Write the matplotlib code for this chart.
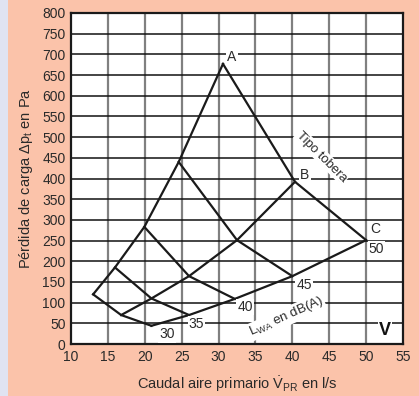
import matplotlib
matplotlib.use("Agg")
import matplotlib.pyplot as plt
from matplotlib.patches import Rectangle

plt.rcParams['font.family'] = ['Liberation Sans', 'DejaVu Sans']
plt.rcParams['mathtext.fontset'] = 'custom'
plt.rcParams['mathtext.rm'] = 'Liberation Sans'
plt.rcParams['mathtext.it'] = 'Liberation Sans'

# nozzle type curves (Tipo tobera): flow l/s, pressure Pa
curve_a_x = [13.0, 15.96, 19.94, 24.6, 30.6]
curve_a_y = [120, 185, 283, 440, 677]
curve_b_x = [16.8, 20.9, 26.0, 32.5, 40.36]
curve_b_y = [70, 110, 164, 251, 392]
curve_c_x = [20.9, 26.0, 32.2, 40.0, 50.0]
curve_c_y = [44, 70, 109, 164, 251]

# sound level lines L_WA in dB(A)
levels = ['30', '35', '40', '45', '50']
label_pos = [(23.05, 23), (27.0, 48), (33.6, 90), (41.6, 143), (51.4, 229)]

salmon = '#fbc3aa'
lav = '#e0e3f2'
tc = '#2a2a2a'

fig = plt.figure(figsize=(4.19, 3.96), dpi=100)
fig.patch.set_facecolor(salmon)
fig.patches.append(Rectangle((0, 0), 8 / 419, 1, transform=fig.transFigure,
                             facecolor=lav, edgecolor='none', zorder=0))

ax = fig.add_axes([71 / 419, 52 / 396, 332 / 419, 331 / 396])
ax.set_facecolor('white')
ax.set_xlim(10, 55)
ax.set_ylim(0, 800)
ax.set_xticks(range(10, 56, 5))
ax.set_yticks(range(0, 801, 50))
ax.tick_params(length=0, labelsize=10, pad=4, colors=tc)
for x in range(15, 55, 5):
    ax.axvline(x, color='#808080', lw=1.6, zorder=1)
for y in range(50, 800, 50):
    ax.axhline(y, color='#111111', lw=1.1, zorder=1)
for s in ax.spines.values():
    s.set_linewidth(1.6)
    s.set_color('#1a1a1a')

lc = '#1a1a1a'
lw = 1.6
for cx, cy in [(curve_a_x, curve_a_y), (curve_b_x, curve_b_y), (curve_c_x, curve_c_y)]:
    ax.plot(cx, cy, color=lc, lw=lw, zorder=3, solid_joinstyle='miter')
for i in range(len(levels)):
    ax.plot([curve_a_x[i], curve_b_x[i], curve_c_x[i]],
            [curve_a_y[i], curve_b_y[i], curve_c_y[i]],
            color=lc, lw=lw, zorder=3, solid_joinstyle='miter')

box = dict(facecolor='white', edgecolor='none', pad=0.8)
for lab, (lx, ly) in zip(levels, label_pos):
    ax.text(lx, ly, lab, fontsize=10, ha='center', va='center', color=tc,
            bbox=box, zorder=4)
ax.text(31.8, 693, 'A', fontsize=10, ha='center', va='center', color=tc, bbox=box, zorder=4)
ax.text(41.7, 408, 'B', fontsize=10, ha='center', va='center', color=tc, bbox=box, zorder=4)
ax.text(51.3, 278, 'C', fontsize=10, ha='center', va='center', color=tc, bbox=box, zorder=4)
ax.text(44.0, 453, 'Tipo tobera', fontsize=9.5, ha='center', va='center', rotation=-45,
        color=tc, bbox=box, zorder=4, rotation_mode='anchor')
ax.text(39.2, 66, r'L$_{\rm WA}$ en dB(A)', fontsize=9.5, ha='center', va='center', rotation=24,
        color=tc, bbox=box, zorder=4, rotation_mode='anchor')
ax.text(52.6, 32, 'V', fontsize=13, fontweight='bold', ha='center', va='center',
        color='#111111', bbox=box, zorder=4)

ax.set_xlabel(r'Caudal aire primario $\dot{\rm V}_{\rm PR}$ en l/s', fontsize=10.5,
              color=tc, labelpad=8)
ax.set_ylabel(r'Pérdida de carga $\Delta$p$_{\rm t}$ en Pa', fontsize=10.5,
              color=tc, labelpad=5)

fig.savefig('out.png', dpi=100, facecolor=fig.get_facecolor())
